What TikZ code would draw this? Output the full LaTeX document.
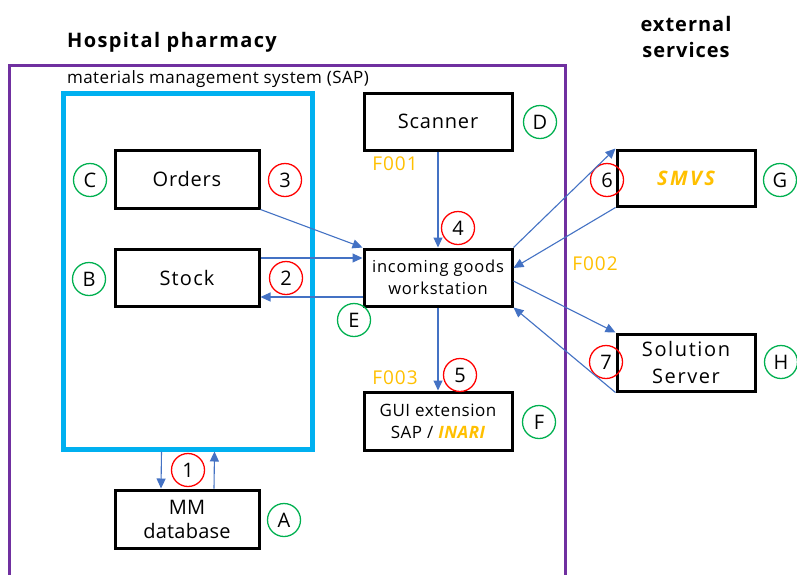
\documentclass[tikz,border=0pt]{standalone}
\usepackage{fontspec}
\setmainfont{Open Sans}
\usetikzlibrary{arrows.meta}
\definecolor{purp}{HTML}{7030A0}
\definecolor{cyanb}{HTML}{00B0F0}
\definecolor{arrb}{HTML}{4472C4}
\definecolor{orng}{HTML}{FFC000}
\definecolor{grn}{HTML}{00B050}
\definecolor{redc}{HTML}{FF0000}
\begin{document}
\begin{tikzpicture}[x=1pt,y=-1pt,
  box/.style={draw=black, line width=3pt, fill=white, inner sep=0pt, align=center, font=\fontsize{20}{22}\selectfont\addfontfeature{LetterSpace=4}},
  lbl/.style={circle, draw=grn, line width=1.3pt, minimum size=33pt, inner sep=0pt, font=\fontsize{20}{22}\selectfont},
  num/.style={circle, draw=redc, line width=1.3pt, minimum size=33pt, inner sep=0pt, font=\fontsize{20}{22}\selectfont},
  flow/.style={draw=arrb, line width=1.1pt, -{Triangle[length=10pt,width=9pt]}},
  fcode/.style={text=orng, font=\fontsize{19}{21}\selectfont\addfontfeature{LetterSpace=5}},
  head/.style={font=\fontsize{20}{25}\selectfont\bfseries\addfontfeature{LetterSpace=7}, align=center}]
\useasboundingbox[fill=white] (0,0) rectangle (797,574);
\begin{scope}
\clip (0,0) rectangle (797,574);
\draw[purp, line width=3pt] (9,590) -- (9,65) -- (565,65) -- (565,590);
\end{scope}
\node[head] (hp) at (172,42) {Hospital pharmacy};
\node[head, font=\fontsize{20}{26}\selectfont\bfseries\addfontfeature{LetterSpace=5}] (ext) at (686,37) {external\\services};
\node[font=\fontsize{17}{20}\selectfont\addfontfeature{LetterSpace=2.5}] (mms) at (218,79) {materials management system (SAP)};
\node[draw=cyanb, line width=5pt, minimum width=249pt, minimum height=356pt, inner sep=0pt] (sap) at (187.5,271) {};
\node[box, minimum width=148pt, minimum height=57pt] (scan) at (438,121.5) {Scanner};
\node[box, minimum width=144pt, minimum height=58pt] (ord) at (187,179) {Orders};
\node[box, minimum width=144pt, minimum height=57pt, font=\fontsize{20}{22}\selectfont\addfontfeature{LetterSpace=6}] (stock) at (187,277.5) {Stock};
\node[box, minimum width=148pt, minimum height=57pt, font=\fontsize{16.5}{22}\selectfont\addfontfeature{LetterSpace=5}] (work) at (438,277.5) {incoming goods\\workstation};
\node[box, minimum width=138pt, minimum height=56pt, font=\fontsize{20}{22}\selectfont\bfseries\itshape\addfontfeature{LetterSpace=12}, text=orng] (smvs) at (686,178) {SMVS};
\node[box, minimum width=138pt, minimum height=57pt, font=\fontsize{20}{27}\selectfont\addfontfeature{LetterSpace=8}] (sol) at (686,362.5) {Solution\\Server};
\node[box, minimum width=148pt, minimum height=58pt, font=\fontsize{17}{22}\selectfont\addfontfeature{LetterSpace=3}] (gui) at (438,421) {GUI extension\\SAP / {\bfseries\itshape\color{orng}INARI}};
\node[box, minimum width=144pt, minimum height=58pt, font=\fontsize{20}{24}\selectfont\addfontfeature{LetterSpace=1}] (mm) at (187,519) {MM\\database};
% letters
\node[lbl] (lA) at (284,520) {A};
\node[lbl] (lB) at (89,279) {B};
\node[lbl] (lC) at (90,180) {C};
\node[lbl] (lD) at (540,122) {D};
\node[lbl] (lE) at (354,320) {E};
\node[lbl] (lF) at (539,422) {F};
\node[lbl] (lG) at (780,180) {G};
\node[lbl] (lH) at (781,362) {H};
% numbers
\node[num] (n1) at (188,470) {1};
\node[num] (n2) at (286,278) {2};
\node[num] (n3) at (285,180) {3};
\node[num] (n4) at (458,228) {4};
\node[num] (n5) at (460,375) {5};
\node[num] (n6) at (607,180) {6};
\node[num] (n7) at (606,362) {7};
% codes
\node[fcode] (f1) at (395,164) {F001};
\node[fcode] (f2) at (595,264) {F002};
\node[fcode] (f3) at (395,378) {F003};
% arrows
\draw[flow] (ord.south east) -- (work.north west);
\draw[flow] ([yshift=19.5pt]stock.east) -- ([yshift=19.5pt]work.west);
\draw[flow] ([yshift=-19.5pt]work.west) -- ([yshift=-19.5pt]stock.east);
\draw[flow] (scan.south) -- (work.north);
\draw[flow] (work.south) -- (gui.north);
\draw[flow] (work.north east) -- (smvs.north west);
\draw[flow] (smvs.south west) -- ([yshift=9.5pt]work.east);
\draw[flow] ([yshift=-3.5pt]work.east) -- (sol.north west);
\draw[flow] (sol.south west) -- (work.south east);
\draw[flow] ([xshift=-26pt]sap.south) -- ([xshift=-26pt]mm.north);
\draw[flow] ([xshift=27pt]mm.north) -- ([xshift=27pt]sap.south);
\end{tikzpicture}
\end{document}
